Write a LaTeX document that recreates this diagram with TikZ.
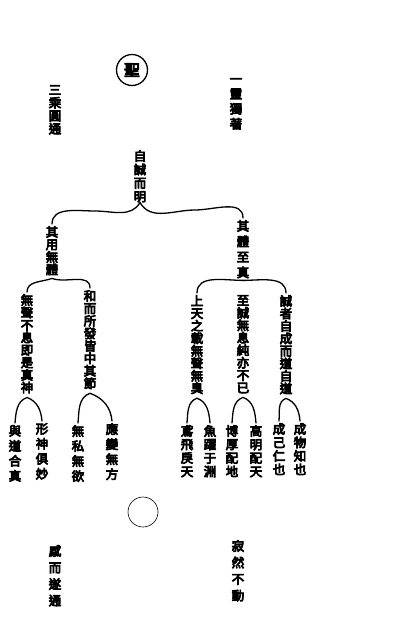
\documentclass[tikz,border=0pt]{standalone}
\usepackage{fontspec}
\newfontfamily\cjk[FakeBold=6]{Noto Sans CJK TC}
\tikzset{
  vcol/.style={font=\cjk\fontsize{12.5}{#1}\selectfont,align=center,inner sep=0pt,anchor=north},
  vcol/.default=13,
  stroke/.style={line width=1.3pt,line cap=round}
}
\begin{document}
\begin{tikzpicture}[x=1pt,y=1pt]
\useasboundingbox[fill=white] (0,0) rectangle (410,-630);
\node[circle,draw,line width=1.3pt,minimum size=31pt,inner sep=0pt,font=\cjk\fontsize{16}{16}\selectfont] (sheng) at (132,-70) {聖};
\node[vcol=13] (sancheng) at (55,-85) {三\\乘\\圓\\通};
\node[vcol=15] (yiling) at (236,-78) {一\\靈\\獨\\著};
\node[vcol=13.5] (zicheng) at (140,-150) {自\\誠\\而\\明};
\node[vcol=12.5] (yong) at (52,-226) {其\\用\\無\\體};
\node[vcol=15.5] (ti) at (243,-220) {其\\體\\至\\真};
\node[vcol=12.5] (yongA) at (27,-294) {無\\聲\\不\\息\\即\\是\\真\\神};
\node[vcol=12.5] (yongB) at (90,-290) {和\\而\\所\\發\\皆\\中\\其\\節};
\node[vcol=12.5] (tiA) at (197,-295) {上\\天\\之\\載\\無\\聲\\無\\臭};
\node[vcol=12.5] (tiB) at (243,-295) {至\\誠\\無\\息\\純\\亦\\不\\已};
\node[vcol=12.5] (tiC) at (286,-295) {誠\\者\\自\\成\\而\\道\\自\\道};
\node[vcol=15] (yuA) at (15,-425) {與\\道\\合\\真};
\node[vcol=15] (xing) at (42,-423) {形\\神\\俱\\妙};
\node[vcol=15] (wusi) at (78,-425) {無\\私\\無\\欲};
\node[vcol=15] (ying) at (112,-423) {應\\變\\無\\方};
\node[vcol=13.5] (yuan) at (187,-425) {鳶\\飛\\戾\\天};
\node[vcol=13.5] (yu) at (210,-425) {魚\\躍\\于\\淵};
\node[vcol=13.5] (bohou) at (232,-425) {博\\厚\\配\\地};
\node[vcol=13.5] (gaoming) at (256,-425) {高\\明\\配\\天};
\node[vcol=13.5] (chengji) at (279,-423) {成\\己\\仁\\也};
\node[vcol=13.5] (chengwu) at (300,-423) {成\\物\\知\\也};
\node[circle,draw,line width=0.6pt,minimum size=30pt,inner sep=0pt] (wuji) at (143,-512) {};
\node[vcol=16.5] (gan) at (55,-545) {感\\而\\遂\\通};
\node[vcol=16.5] (ji) at (238,-540) {寂\\然\\不\\動};
\coordinate (bl) at (95,-211);
\coordinate (br) at (195,-210);
\draw[stroke] ([yshift=2pt]yong.north) to[out=90,in=180] (bl) to[out=0,in=240] (zicheng.south)
  to[out=-60,in=180] (br) to[out=0,in=90] ([yshift=2pt]ti.north);
\draw[stroke] ([yshift=2pt]yongA.north) to[out=90,in=200] ([yshift=-3pt]yong.south) to[out=-20,in=90] ([yshift=2pt]yongB.north);
\draw[stroke] ([yshift=2pt]tiA.north) to[out=90,in=180] ([yshift=-2pt]ti.south) to[out=0,in=90] ([yshift=2pt]tiC.north);
\draw[stroke] ([yshift=2pt]yuA.north) to[out=85,in=200] ([yshift=-4pt]yongA.south) to[out=-20,in=95] ([yshift=2pt]xing.north);
\draw[stroke] ([yshift=2pt]wusi.north) to[out=85,in=200] ([yshift=-4pt]yongB.south) to[out=-20,in=95] ([yshift=2pt]ying.north);
\draw[stroke] ([yshift=2pt]yuan.north) to[out=85,in=200] ([yshift=-4pt]tiA.south) to[out=-20,in=95] ([yshift=2pt]yu.north);
\draw[stroke] ([yshift=2pt]bohou.north) to[out=85,in=200] ([yshift=-4pt]tiB.south) to[out=-20,in=95] ([yshift=2pt]gaoming.north);
\draw[stroke] ([yshift=2pt]chengji.north) to[out=85,in=200] ([yshift=-4pt]tiC.south) to[out=-20,in=95] ([yshift=2pt]chengwu.north);
\end{tikzpicture}
\end{document}
